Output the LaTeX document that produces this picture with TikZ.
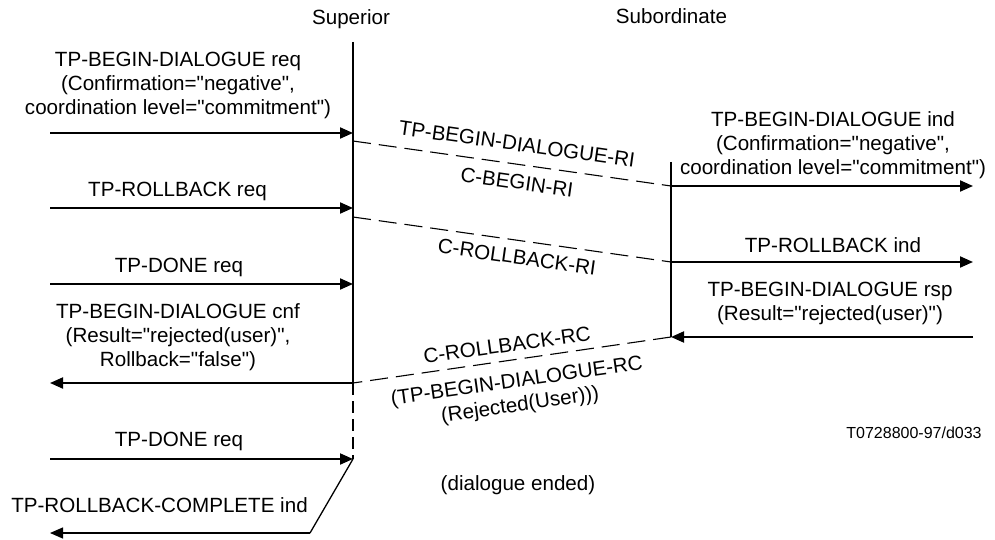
\documentclass[tikz,border=0pt]{standalone}
\usepackage{fontspec}
\setmainfont{Liberation Sans}[Ligatures=TeXOff]
\usetikzlibrary{arrows.meta}
\begin{document}
\begin{tikzpicture}[x=1pt,y=-1pt,
  lbl/.style={font=\fontsize{20.6}{24}\selectfont, inner sep=0pt, align=center},
  small/.style={font=\fontsize{16}{19}\selectfont, inner sep=0pt},
  msg/.style={line width=2pt, -{Triangle[length=13pt,width=11pt]}},
  thinmsg/.style={line width=1.3pt, -{Triangle[length=13pt,width=11pt]}},
  life/.style={line width=2pt},
  lifedash/.style={line width=2pt, dash pattern=on 12pt off 6pt},
  prim/.style={line width=1.1pt, dash pattern=on 18pt off 8pt},
]
\useasboundingbox (0,0) rectangle (995,540);

% headers
\node[lbl] (sup) at (351,18.7) {Superior};
\node[lbl] (sub) at (671.5,16.5) {Subordinate};

% lifeline coordinates
\coordinate (supTop) at (353,42);
\coordinate (supA) at (353,133);
\coordinate (supA2) at (353,141);
\coordinate (supB) at (353,208);
\coordinate (supB2) at (353,217);
\coordinate (supC) at (353,284);
\coordinate (supD) at (353,383);
\coordinate (supE) at (353,459);
\coordinate (subTop) at (671,162);
\coordinate (subA) at (671,186);
\coordinate (subB) at (671,262);
\coordinate (subC) at (671,337);

% left free ends
\coordinate (lA) at (50,133);
\coordinate (lB) at (50,208);
\coordinate (lC) at (50,284);
\coordinate (lD) at (50,383);
\coordinate (lE) at (50,459);
\coordinate (bend) at (310,533);
\coordinate (lF) at (50,533);
% right free ends
\coordinate (rA) at (973,186);
\coordinate (rB) at (973,262);
\coordinate (rC) at (973,337);

% lifelines
\draw[life] (supTop) -- (supD);
\draw[lifedash] (supD) -- (supE);
\draw[life] (subTop) -- (subC);

% superior side primitives
\draw[msg] (lA) -- (supA);
\draw[msg] (lB) -- (supB);
\draw[msg] (lC) -- (supC);
\draw[msg] (supD) -- (lD);
\draw[msg] (lE) -- (supE);
\draw[line width=1.3pt] (supE) -- (bend);
\draw[thinmsg] (bend) -- (lF);

% subordinate side primitives
\draw[msg] (subA) -- (rA);
\draw[msg] (subB) -- (rB);
\draw[msg] (rC) -- (subC);

% protocol messages
\draw[prim] (supA2) -- (subA);
\draw[prim] (supB2) -- (subB);
\draw[prim] (subC) -- (supD);

% left labels
\node[lbl] (t1) at (178,85.7) {TP-BEGIN-DIALOGUE req\\(Confirmation="negative",\\coordination level="commitment")};
\node[lbl] (t2) at (177.5,191.7) {TP-ROLLBACK req};
\node[lbl] (t3) at (179,267.7) {TP-DONE req};
\node[lbl] (t4) at (178,336.7) {TP-BEGIN-DIALOGUE cnf\\(Result="rejected(user)",\\Rollback="false")};
\node[lbl] (t5) at (179,441.7) {TP-DONE req};
\node[lbl] (t6) at (159.5,505.5) {TP-ROLLBACK-COMPLETE ind};

% right labels
\node[lbl] (r1) at (833,144.7) {TP-BEGIN-DIALOGUE ind\\(Confirmation="negative",\\coordination level="commitment")};
\node[lbl] (r2) at (833,245.5) {TP-ROLLBACK ind};
\node[lbl] (r3) at (830,303.7) {TP-BEGIN-DIALOGUE rsp\\(Result="rejected(user)")};

% message labels
\node[lbl, rotate=-8.05] (m1) at (517,144) {TP-BEGIN-DIALOGUE-RI};
\node[lbl, rotate=-8.05] (m2) at (517,182) {C-BEGIN-RI};
\node[lbl, rotate=-8.05] (m3) at (517,257) {C-ROLLBACK-RI};
\node[lbl, rotate=8.05] (m4) at (507,345) {C-ROLLBACK-RC};
\node[lbl, rotate=8.05] (m5) at (518.5,394) {(TP-BEGIN-DIALOGUE-RC\\(Rejected(User)))};

\node[lbl] (end) at (518,484.7) {(dialogue ended)};
\node[small] (ref) at (914,432.3) {T0728800-97/d033};
\end{tikzpicture}
\end{document}
